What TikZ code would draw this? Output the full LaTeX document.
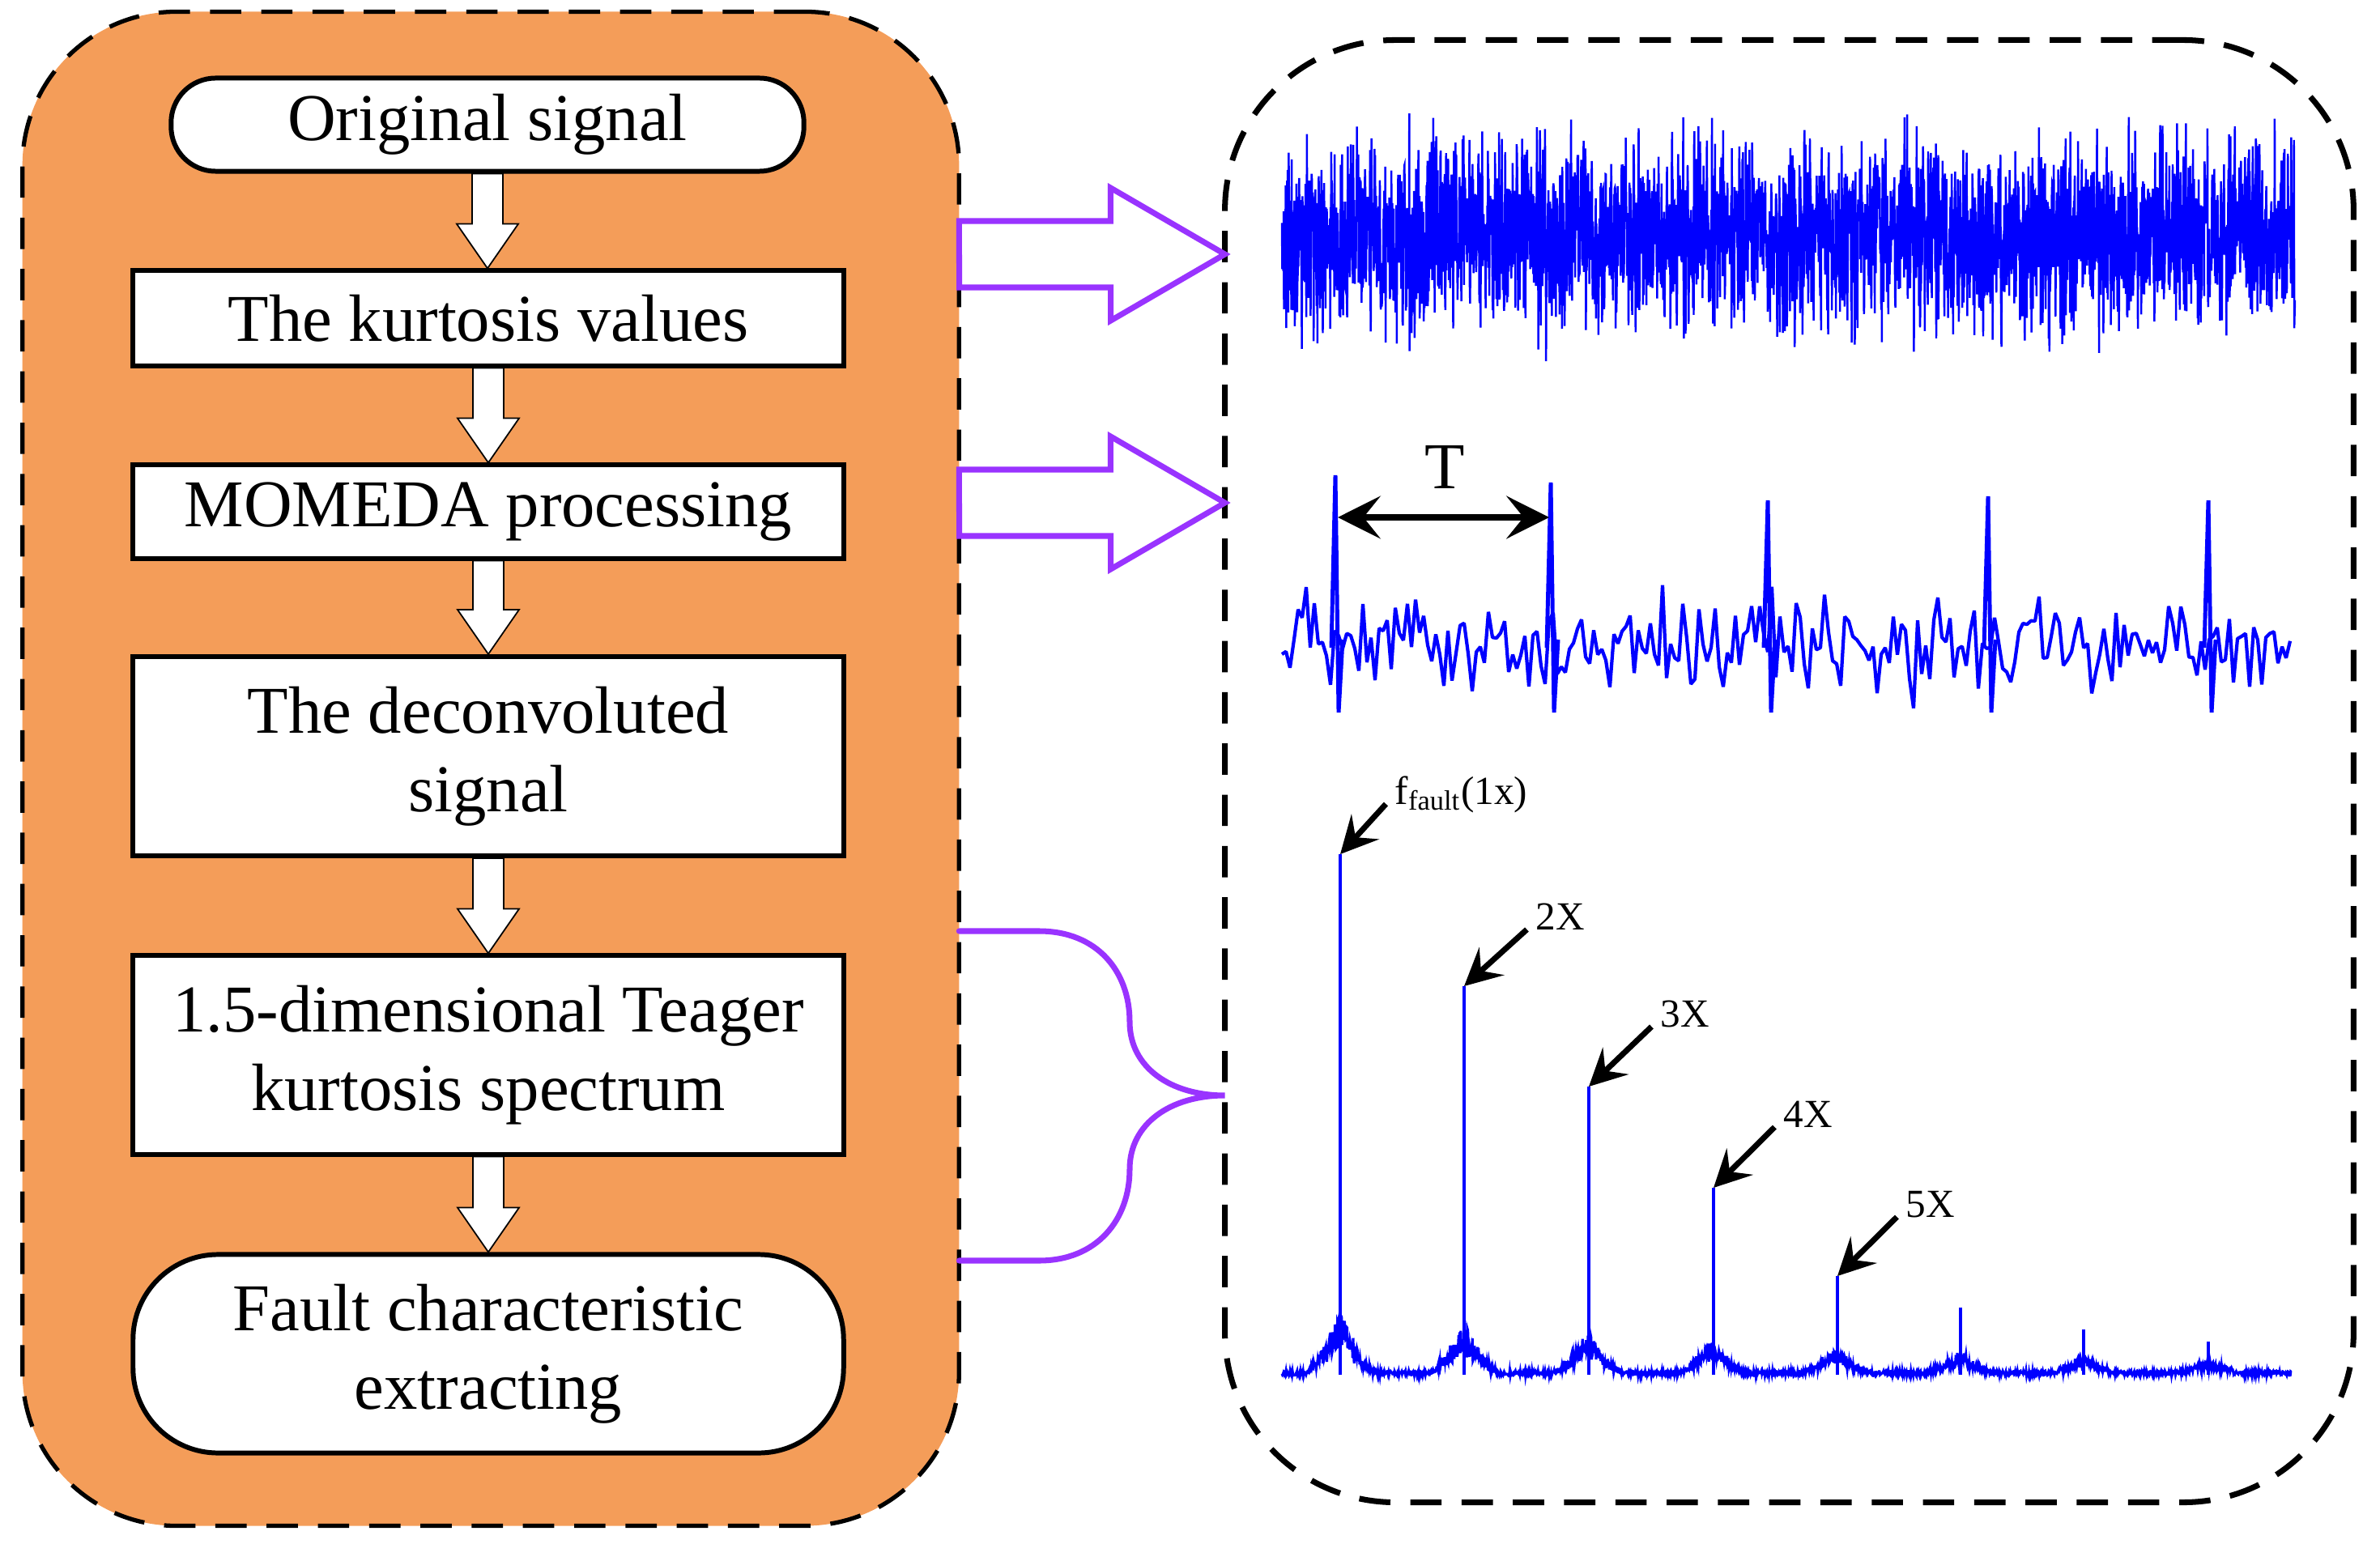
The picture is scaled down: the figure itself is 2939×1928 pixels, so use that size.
\documentclass[tikz,border=0pt]{standalone}
\usepackage{fontspec}
\setmainfont{Liberation Serif}
\usetikzlibrary{arrows.meta,calc}
\definecolor{panelorange}{RGB}{244,157,89}
\definecolor{linkpurple}{RGB}{153,51,255}
\definecolor{sigblue}{RGB}{0,0,255}
\tikzset{
	panel/.style={draw,line width=1.5pt,dash pattern=on 11pt off 7pt,inner sep=0pt,outer sep=0pt},
	stepbox/.style={draw,line width=1.7pt,fill=white,minimum width=8.77cm,align=center,inner sep=0pt,
		font=\fontsize{23.5}{27.7}\selectfont},
	endbox/.style={stepbox,rounded corners=1.05cm},
	hollow/.style={draw,line width=0.5pt,fill=white},
	bigarrow/.style={draw=linkpurple,line width=2pt,fill=white,line join=miter},
	brace/.style={draw=linkpurple,line width=2pt,line cap=round},
	harmlabel/.style={anchor=base west,inner sep=0pt,font=\fontsize{14}{16}\selectfont},
	pointer/.style={line width=2pt,-{Stealth[length=13pt,width=13pt,inset=5pt]}},
}
% hollow arrow between two boxes
\newcommand{\flowarrow}[2]{%
	\draw[hollow] let \p1=(#1.south), \p2=(#2.north) in
	(\x1-5.4pt,\y1) -- (\x1+5.4pt,\y1) -- (\x1+5.4pt,\y2+15.6pt) -- (\x1+10.8pt,\y2+15.6pt)
	-- (\x1,\y2) -- (\x1-10.8pt,\y2+15.6pt) -- (\x1-5.4pt,\y2+15.6pt) -- cycle;}

\begin{document}
\begin{tikzpicture}[x=0.01cm,y=-0.01cm]
	\useasboundingbox (0,0) rectangle (2939,1928);
	% the two dashed frames
	\node[panel,fill=panelorange,rounded corners=1.9cm,minimum width=11.56cm,minimum height=18.69cm] (proc) at (606,949.5) {};
	\node[panel,line width=2pt,rounded corners=2.1cm,minimum width=13.93cm,minimum height=18.05cm] (res) at (2209.5,952.5) {};
	
	% flow chart
	\node[stepbox,rounded corners=0.55cm,minimum width=7.81cm,minimum height=1.15cm] (orig) at (602,154) {Original signal};
	\node[stepbox,minimum height=1.17cm] (kurt) at (603,393) {The kurtosis values};
	\node[stepbox,minimum height=1.15cm] (momeda) at (603,632) {MOMEDA processing};
	\node[stepbox,minimum height=2.46cm] (deconv) at (603,934) {The deconvoluted\\signal};
	\node[stepbox,minimum height=2.45cm] (teager) at (603,1303) {1.5-dimensional Teager\\kurtosis spectrum};
	\node[endbox,minimum height=2.45cm] (fault) at (603,1672) {Fault characteristic\\extracting};
	\flowarrow{orig}{kurt}
	\flowarrow{kurt}{momeda}
	\flowarrow{momeda}{deconv}
	\flowarrow{deconv}{teager}
	\flowarrow{teager}{fault}
	
	% links to the right frame
	\coordinate (a1) at (proc.east |- 0,314);
	\coordinate (a2) at (proc.east |- 0,621);
	\draw[bigarrow] (a1) ++(0,-41) -- ++(187,0) -- ++(0,-41) -- (res.west |- a1) -- ++(-141,82) -- ++(0,-41) -- ++(-187,0) -- cycle;
	\draw[bigarrow] (a2) ++(0,-41) -- ++(187,0) -- ++(0,-41) -- (res.west |- a2) -- ++(-141,82) -- ++(0,-41) -- ++(-187,0) -- cycle;
	\coordinate (bup) at (proc.east |- 0,1150);
	\coordinate (blow) at (proc.east |- 0,1557);
	\coordinate (btip) at (res.west |- 0,1353);
	\draw[brace] (bup) -- (1283,1150) .. controls (1355,1150) and (1395,1200) .. (1395,1262)
	.. controls (1395,1318) and (1445,1353) .. (btip) .. controls (1445,1353) and (1395,1388) .. (1395,1444)
	.. controls (1395,1506) and (1355,1557) .. (1283,1557) -- (blow);
	
	% raw signal
	\pgfmathsetseed{7}
	\draw[sigblue,line width=0.7pt] plot[domain=1583:2834,samples=3000] (\x,{290+57*(rand+rand+rand)});
	
	% deconvoluted signal
	\draw[sigblue,line width=1.2pt,line join=bevel] plot[domain=1583:2828,samples=250] (\x,{796+28*(rand+rand+rand)});
	\foreach \sx/\st in {1649/587,1915/596,2183/618,2455/613,2727/618}
		\draw[sigblue,line width=1.4pt] (\sx-5,800) -- (\sx,\st) -- (\sx+4,880) -- (\sx+9,790);
	\coordinate (tl) at (1652,639);
	\coordinate (tr) at (1913,639);
	\draw[line width=2pt,{Stealth[length=15pt,width=15pt,inset=6pt]}-{Stealth[length=15pt,width=15pt,inset=6pt]}] (tl) -- (tr);
	\node[font=\fontsize{23}{26}\selectfont,inner sep=0pt] (T) at (1784,577) {T};
	
	% spectrum
	\draw[sigblue,line width=0.9pt] plot[domain=1583:2830,samples=2000]
	(\x,{1699-6*rnd-80*exp(-(\x-1655)/700)*max(0,1-abs(mod(\x-1272.5,153)-76.5)/45)^1.4*(0.35+0.65*rnd)});
	\foreach \px/\pt [count=\i] in {1655/1055,1808/1218,1962/1342,2116/1467,2269/1576,2421/1615,2573/1642,2727/1657}{
		\draw[sigblue,line width=1.1pt] (\px,1698) -- (\px,\pt);
		\coordinate (pk\i) at (\px,\pt);
	}
	\node[harmlabel] (h1) at ([shift={(67,-62)}]pk1) {f\textsubscript{fault}(1x)};
	\node[harmlabel] (h2) at ([shift={(88,-70)}]pk2) {2X};
	\node[harmlabel] (h3) at ([shift={(88,-74)}]pk3) {3X};
	\node[harmlabel] (h4) at ([shift={(86,-75)}]pk4) {4X};
	\node[harmlabel] (h5) at ([shift={(84,-73)}]pk5) {5X};
	\foreach \i in {1,...,5}
		\draw[pointer] ([xshift=-3pt]h\i.base west) -- (pk\i);
\end{tikzpicture}
\end{document}
